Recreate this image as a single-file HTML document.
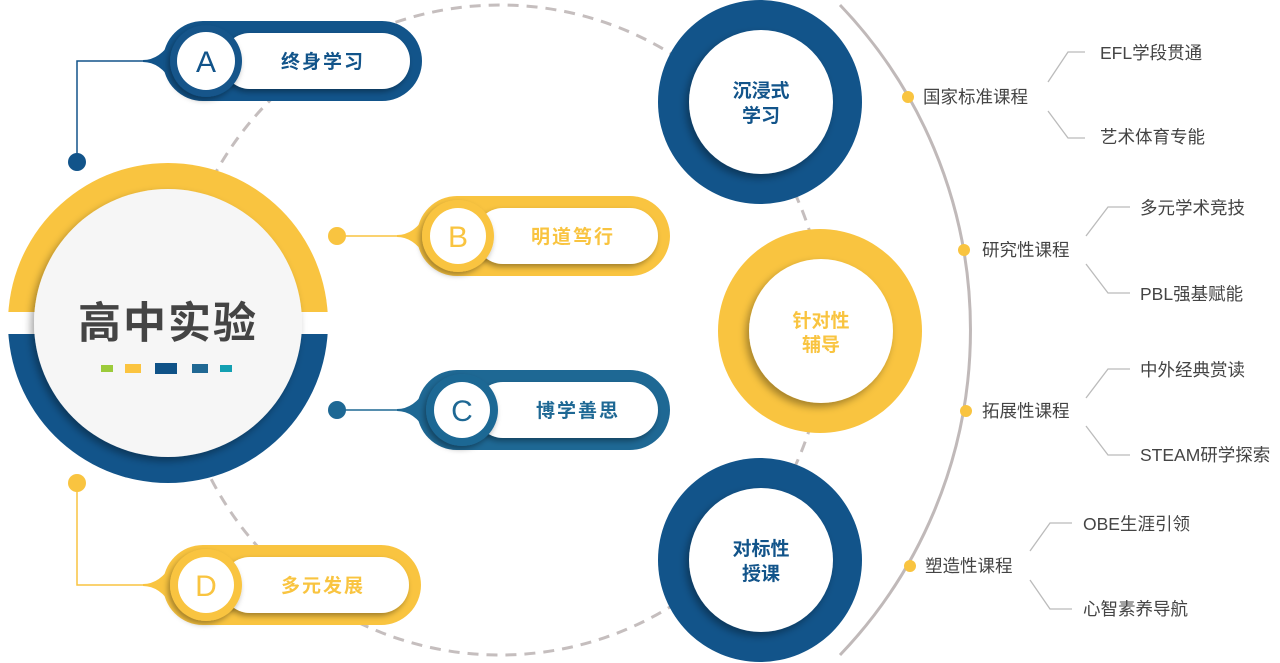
<!DOCTYPE html>
<html><head><meta charset="utf-8"><style>
html,body{margin:0;padding:0;background:#fff;width:1280px;height:663px;overflow:hidden}
svg{display:block}
text{font-family:"Liberation Sans","Noto Sans CJK SC",sans-serif}
.b{font-weight:bold}
</style></head><body>
<svg width="1280" height="663" viewBox="0 0 1280 663" xmlns="http://www.w3.org/2000/svg">
<defs>
<filter id="sh" x="-30%" y="-30%" width="160%" height="160%"><feDropShadow dx="-3" dy="4" stdDeviation="4" flood-color="#000" flood-opacity="0.35"/></filter>
<filter id="sh2" x="-30%" y="-30%" width="160%" height="160%"><feDropShadow dx="-2" dy="3" stdDeviation="3" flood-color="#000" flood-opacity="0.35"/></filter>
<clipPath id="top"><rect x="0" y="0" width="400" height="312"/></clipPath>
<clipPath id="bot"><rect x="0" y="334" width="400" height="200"/></clipPath>
</defs>
<circle cx="500" cy="330" r="325" fill="none" stroke="#c5bebe" stroke-width="3" stroke-dasharray="11 8"/>
<path d="M840,5 A470,470 0 0 1 840,655" fill="none" stroke="#c0b9b9" stroke-width="3"/>

<circle cx="168" cy="323" r="160" fill="#f9c440" clip-path="url(#top)"/>
<circle cx="168" cy="323" r="160" fill="#12548a" clip-path="url(#bot)"/>
<circle cx="168" cy="323" r="134" fill="#f6f6f6" filter="url(#sh)"/>
<text x="168" y="338" text-anchor="middle" font-size="43" class="b" fill="#444" letter-spacing="2">高中实验</text>
<rect x="101" y="365" width="12" height="7" fill="#9ccb3b"/>
<rect x="125" y="364" width="16" height="9" fill="#fbc440"/>
<rect x="155" y="363" width="22" height="11" fill="#0f5287"/>
<rect x="192" y="364" width="16" height="9" fill="#206893"/>
<rect x="220" y="365" width="12" height="7" fill="#13a0b2"/>

<polyline points="150,61 77,61 77,162" fill="none" stroke="#12548a" stroke-width="1.5"/>
<circle cx="77" cy="162" r="9" fill="#12548a"/>
<line x1="337" y1="236" x2="400" y2="236" stroke="#f9c440" stroke-width="1.5"/>
<circle cx="337" cy="236" r="9" fill="#f9c440"/>
<line x1="337" y1="410" x2="400" y2="410" stroke="#1e6894" stroke-width="1.5"/>
<circle cx="337" cy="410" r="9" fill="#1e6894"/>
<polyline points="77,483 77,585 150,585" fill="none" stroke="#f9c440" stroke-width="1.5"/>
<circle cx="77" cy="483" r="9" fill="#f9c440"/>

<g>
<path d="M143,60 Q160,60 172,40 L172,82 Q160,62 143,62 Z" fill="#12548a"/>
<rect x="163" y="21" width="259" height="80" rx="40" fill="#12548a"/>
<rect x="222" y="33" width="188" height="56" rx="28" fill="#fff" filter="url(#sh2)"/>
<circle cx="206" cy="61" r="36" fill="#12548a" filter="url(#sh2)"/>
<circle cx="206" cy="61" r="29" fill="#fff"/>
<text x="206" y="72" text-anchor="middle" font-size="30" fill="#12548a">A</text>
<text x="323" y="68" text-anchor="middle" font-size="19" class="b" fill="#12548a" letter-spacing="2">终身学习</text>
</g>
<g>
<path d="M397,235 Q414,235 426,215 L426,257 Q414,237 397,237 Z" fill="#f9c440"/>
<rect x="417" y="196" width="253" height="80" rx="40" fill="#f9c440"/>
<rect x="475" y="208" width="183" height="56" rx="28" fill="#fff" filter="url(#sh2)"/>
<circle cx="458" cy="236" r="36" fill="#f9c440" filter="url(#sh2)"/>
<circle cx="458" cy="236" r="28" fill="#fff"/>
<text x="458" y="247" text-anchor="middle" font-size="30" fill="#f9c440">B</text>
<text x="573" y="243" text-anchor="middle" font-size="19" class="b" fill="#f9c440" letter-spacing="2">明道笃行</text>
</g>
<g>
<path d="M397,409 Q414,409 426,389 L426,431 Q414,411 397,411 Z" fill="#1e6894"/>
<rect x="417" y="370" width="253" height="80" rx="40" fill="#1e6894"/>
<rect x="475" y="382" width="183" height="56" rx="28" fill="#fff" filter="url(#sh2)"/>
<circle cx="462" cy="410" r="36" fill="#1e6894" filter="url(#sh2)"/>
<circle cx="462" cy="410" r="28" fill="#fff"/>
<text x="462" y="421" text-anchor="middle" font-size="30" fill="#1e6894">C</text>
<text x="578" y="417" text-anchor="middle" font-size="19" class="b" fill="#1e6894" letter-spacing="2">博学善思</text>
</g>
<g>
<path d="M143,584 Q160,584 172,564 L172,606 Q160,586 143,586 Z" fill="#f9c440"/>
<rect x="163" y="545" width="258" height="80" rx="40" fill="#f9c440"/>
<rect x="222" y="557" width="187" height="56" rx="28" fill="#fff" filter="url(#sh2)"/>
<circle cx="206" cy="585" r="36" fill="#f9c440" filter="url(#sh2)"/>
<circle cx="206" cy="585" r="28" fill="#fff"/>
<text x="206" y="596" text-anchor="middle" font-size="30" fill="#f9c440">D</text>
<text x="323" y="592" text-anchor="middle" font-size="19" class="b" fill="#f9c440" letter-spacing="2">多元发展</text>
</g>

<circle cx="760" cy="102" r="102" fill="#12548a"/>
<circle cx="761" cy="102" r="72" fill="#fff" filter="url(#sh)"/>
<text x="761" y="97" text-anchor="middle" font-size="19" class="b" fill="#12548a">沉浸式</text>
<text x="761" y="122" text-anchor="middle" font-size="19" class="b" fill="#12548a">学习</text>

<circle cx="820" cy="331" r="102" fill="#f9c440"/>
<circle cx="821" cy="331" r="72" fill="#fff" filter="url(#sh)"/>
<text x="821" y="327" text-anchor="middle" font-size="19" class="b" fill="#f9c440">针对性</text>
<text x="821" y="351" text-anchor="middle" font-size="19" class="b" fill="#f9c440">辅导</text>

<circle cx="760" cy="560" r="102" fill="#12548a"/>
<circle cx="761" cy="560" r="72" fill="#fff" filter="url(#sh)"/>
<text x="761" y="555" text-anchor="middle" font-size="19" class="b" fill="#12548a">对标性</text>
<text x="761" y="580" text-anchor="middle" font-size="19" class="b" fill="#12548a">授课</text>

<g fill="#444" font-size="17.5">
<circle cx="908" cy="97" r="6" fill="#f9c440"/>
<text x="923" y="103">国家标准课程</text>
<polyline points="1048,82 1068,52 1085,52" fill="none" stroke="#bbb" stroke-width="1.3"/>
<polyline points="1048,111 1068,138 1085,138" fill="none" stroke="#bbb" stroke-width="1.3"/>
<text x="1100" y="59">EFL学段贯通</text>
<text x="1100" y="143">艺术体育专能</text>

<circle cx="964" cy="250" r="6" fill="#f9c440"/>
<text x="982" y="256">研究性课程</text>
<polyline points="1086,236 1108,207 1130,207" fill="none" stroke="#bbb" stroke-width="1.3"/>
<polyline points="1086,264 1108,293 1130,293" fill="none" stroke="#bbb" stroke-width="1.3"/>
<text x="1140" y="214">多元学术竞技</text>
<text x="1140" y="300">PBL强基赋能</text>

<circle cx="966" cy="411" r="6" fill="#f9c440"/>
<text x="982" y="417">拓展性课程</text>
<polyline points="1086,398 1108,369 1130,369" fill="none" stroke="#bbb" stroke-width="1.3"/>
<polyline points="1086,426 1108,455 1130,455" fill="none" stroke="#bbb" stroke-width="1.3"/>
<text x="1140" y="376">中外经典赏读</text>
<text x="1140" y="461">STEAM研学探索</text>

<circle cx="910" cy="566" r="6" fill="#f9c440"/>
<text x="925" y="572">塑造性课程</text>
<polyline points="1030,551 1050,523 1072,523" fill="none" stroke="#bbb" stroke-width="1.3"/>
<polyline points="1030,580 1050,609 1072,609" fill="none" stroke="#bbb" stroke-width="1.3"/>
<text x="1083" y="530">OBE生涯引领</text>
<text x="1083" y="615">心智素养导航</text>
</g>
</svg>
</body></html>
